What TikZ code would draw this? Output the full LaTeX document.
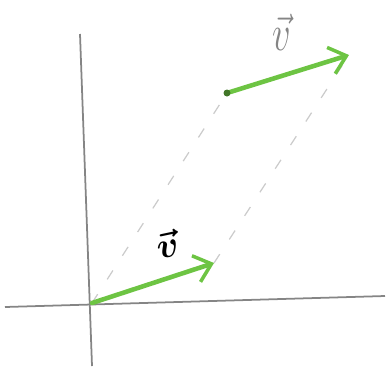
\documentclass[tikz,border=0pt]{standalone}
\usepackage{amsmath,amssymb}
\usetikzlibrary{arrows.meta,positioning}
\definecolor{leaf}{HTML}{6DC443}
\definecolor{pencil}{HTML}{858585}
\definecolor{faint}{HTML}{CBCBCB}
\tikzset{axisline/.style={draw=pencil,line width=1pt},
vecline/.style={draw=leaf,line width=2.6pt,line cap=round,-{Straight Barb[length=3.2mm,width=5.5mm,line width=2pt]}},
guideline/.style={draw=faint,line width=.7pt,dash pattern=on 6pt off 10pt},
veclabel/.style={font=\huge,inner sep=1pt}}
\begin{document}
\begin{tikzpicture}[x=0.2mm,y=-0.2mm]
\useasboundingbox (0,0) rectangle (386,371);
\coordinate (O) at (92,303);\coordinate (A) at (214,263);
\coordinate (B) at (227,93);\coordinate (C) at (349,55);
\coordinate (ytop) at (80,34);\coordinate (ybot) at (92,366);
\coordinate (xl) at (5,307);\coordinate (xr) at (385,296);
\draw[axisline] (ytop)--(ybot);
\draw[axisline] (xl)--(xr);
\draw[guideline] (O)--(B);
\draw[guideline] (A)--(C);
\draw[vecline] (O)--(A);
\draw[vecline] (B)--(C);
\fill[leaf!60!black] (B) circle (3.5);
\node[veclabel,rotate=12] (v1) at (167,244) {$\boldsymbol{\vec{v}}$};
\node[veclabel,text=pencil,yscale=1.4] (v2) at (282,32) {$\vec{v}$};
\end{tikzpicture}
\end{document}
